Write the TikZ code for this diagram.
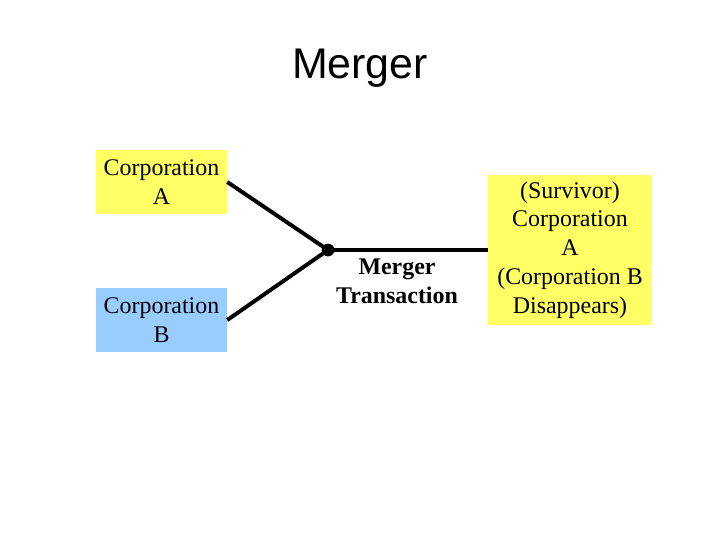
\documentclass[tikz,border=0pt]{standalone}
\usepackage{fontspec}
\setmainfont{Liberation Serif}
\newfontfamily\titlefont{Liberation Sans}
\usepackage{xcolor}
\usetikzlibrary{positioning,calc}
\definecolor{corpyellow}{RGB}{255,255,102}
\definecolor{corpblue}{RGB}{153,204,255}

\begin{document}
\begin{tikzpicture}[
    x=0.025cm, y=-0.025cm,
    corp/.style={rectangle, fill=corpyellow, align=center, inner sep=0pt, minimum width=3.275cm, minimum height=1.6cm, font=\fontsize{17}{20.5}\selectfont},
    link/.style={line width=2.8pt}
]
    \useasboundingbox (0,0) rectangle (720,540);
    \node[font=\titlefont\fontsize{30.5}{34}\selectfont] (title) at (360,68) {Merger};

    \node[corp] (corpA) at (161.5,182) {Corporation\\A};
    \node[corp, fill=corpblue] (corpB) at (161.5,320) {Corporation\\B};
    \node[corp, minimum width=4.1cm, minimum height=3.75cm] (survivor) at (570,250) {(Survivor)\\Corporation\\A\\(Corporation B\\Disappears)};

    \node[circle, fill=black, inner sep=0pt, minimum size=0.32cm] (merge) at (328,250) {};
    \node[align=center, font=\bfseries\fontsize{17}{20.5}\selectfont] (deal) at (397,281) {Merger\\Transaction};

    \draw[link] (corpA.east) -- (merge.center);
    \draw[link] (corpB.east) -- (merge.center);
    \draw[link] (merge.center) -- (survivor.west);
\end{tikzpicture}
\end{document}
